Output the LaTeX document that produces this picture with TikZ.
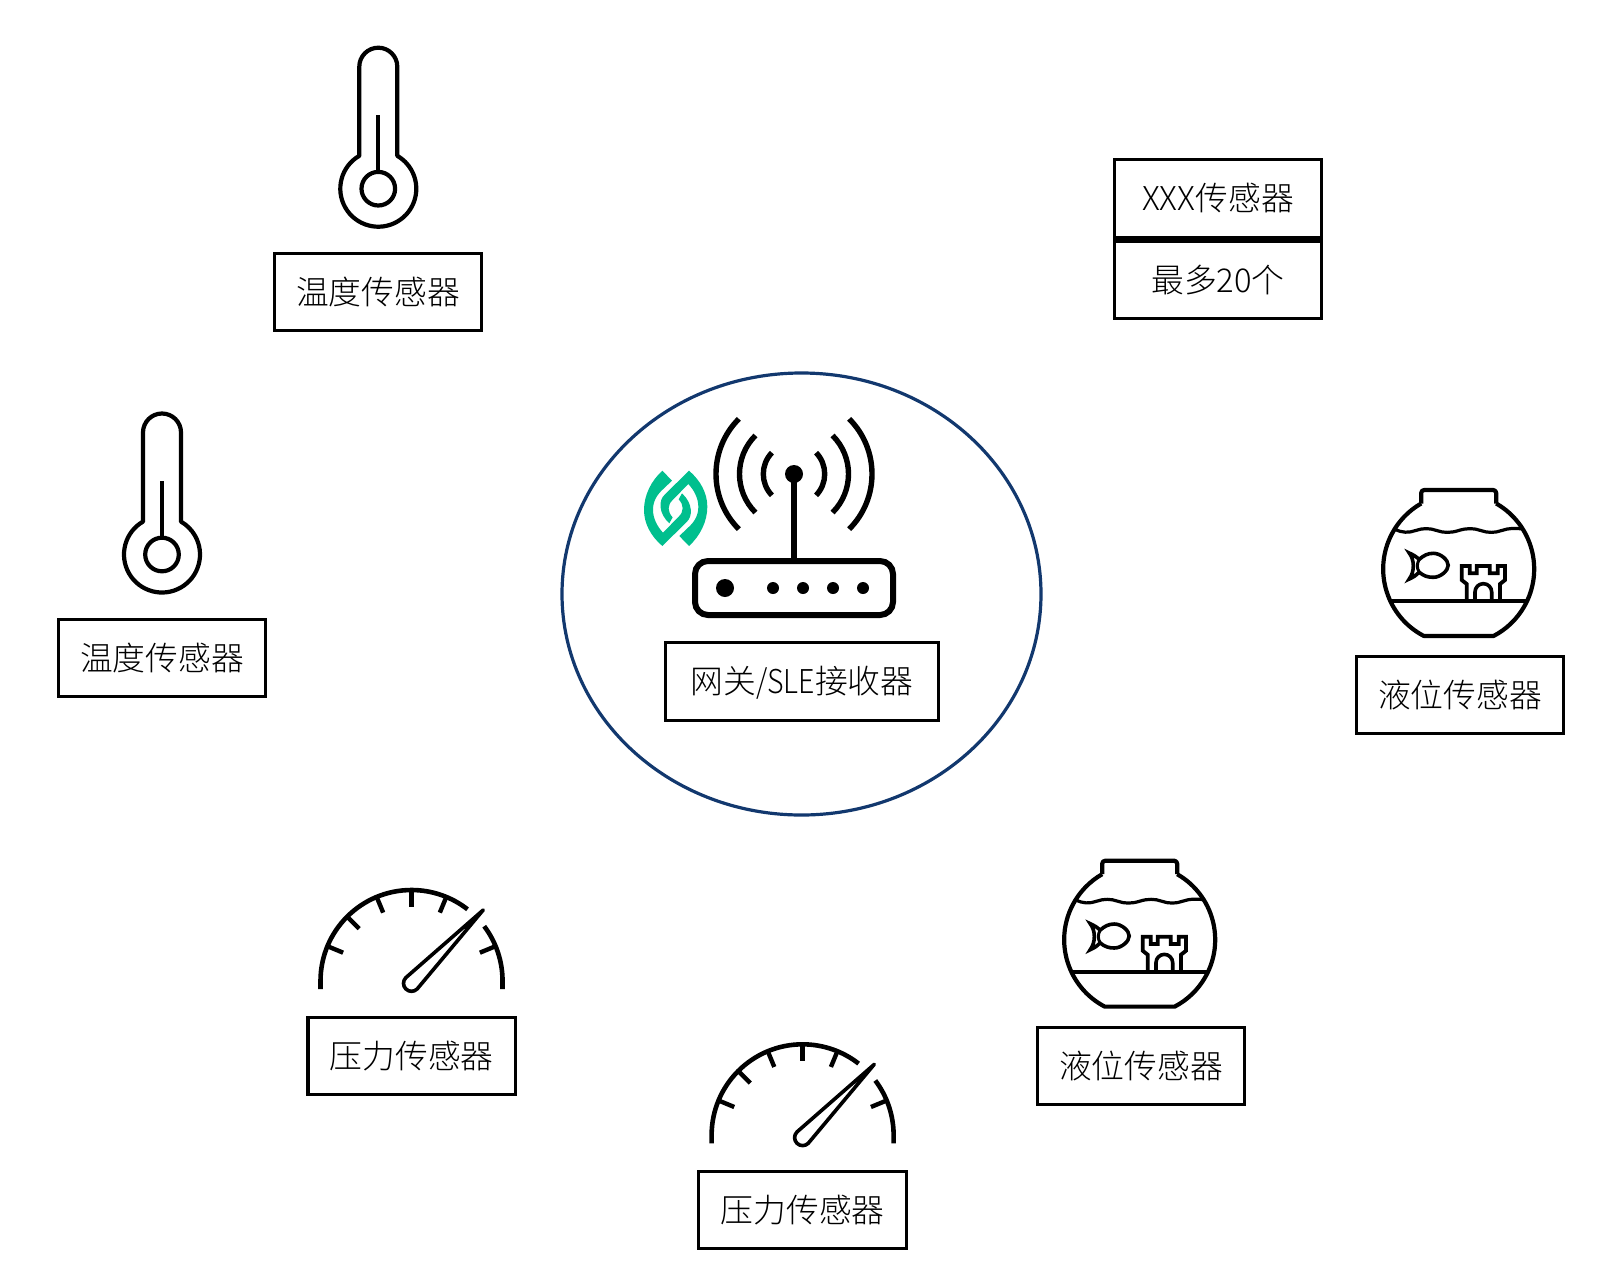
\documentclass[tikz,border=0pt]{standalone}
\usepackage{fontspec}
\setmainfont{Noto Sans CJK SC Light}
\usetikzlibrary{shapes.geometric}
\definecolor{navy}{HTML}{12386E}
\definecolor{leaf}{HTML}{00BF8E}
\tikzset{
  sensorbox/.style={draw=black,line width=3.2,minimum width=207.5,minimum height=77,inner sep=0,
    font=\fontsize{32.8}{36}\selectfont,text height=30,text depth=5,anchor=center},
  iconline/.style={draw=black,line width=4.2,line join=round,fill=none},
  thinline/.style={draw=black,line width=3.2,line join=round,fill=none},
  routerline/.style={draw=black,line width=6},
  waveline/.style={draw=black,line width=5.4},
}
\newcommand{\thermo}[2]{%
\begin{scope}[shift={(#1,#2)}]
  \draw[iconline] (19,-32.9) -- (19,-122) arc[start angle=0,end angle=-180,radius=19] -- (-19,-32.9)
     arc[start angle=-120,end angle=-420,radius=38] -- cycle;
  \draw[iconline] (0,0) circle[radius=16.8];
  \draw[iconline] (0,-16.8) -- (0,-74);
\end{scope}}
\newcommand{\gauge}[2]{%
\begin{scope}[shift={(#1,#2)}]
  \draw[iconline,line width=4.6,line join=miter] (-91,8) -- (-91,0) arc[start angle=-180,end angle=-52,radius=91];
  \draw[iconline,line width=4.6,line join=miter] (72.7,-54.8) arc[start angle=-37,end angle=0,radius=91] -- (91,8);
  \foreach \a in {-157.5,-135,-112.5,-90,-67.5,-22.5}
    \draw[draw=black,line width=4.4] (\a:91) -- (\a:74);
  \draw[thinline,line width=3.6] (71.7,-71) -- (5.66,7.96) arc[start angle=45,end angle=225,radius=8] -- cycle;
\end{scope}}
\newcommand{\tank}[2]{%
\begin{scope}[shift={(#1,#2)}]
  \draw[iconline,rounded corners=3] (-37.5,-65.5) -- (-37.5,-79) -- (37.5,-79) -- (37.5,-65.5);
  \draw[iconline] (37.5,-65.5) arc[start angle=-60.2,end angle=62.4,radius=75.5] -- (-35,66.9)
     arc[start angle=117.6,end angle=240.2,radius=75.5];
  \draw[thinline,line width=3.2] (-64,-40) .. controls (-57,-36) and (-50,-36) .. (-43,-38.5)
     .. controls (-36,-41) and (-29,-41) .. (-22,-38.5) .. controls (-15,-36) and (-8,-36) .. (0,-38.5)
     .. controls (8,-41) and (15,-41) .. (22,-38.5) .. controls (29,-36) and (36,-36) .. (43,-38.5)
     .. controls (50,-41) and (57,-41) .. (64,-40);
  \draw[iconline] (-68,32) -- (68,32);
  \draw[thinline,line width=3.8,line join=miter] (8,31) -- (8,15) -- (3,11) -- (3,-3) -- (11,-3) -- (11,4.3) -- (18,4.3) -- (18,-3) -- (31,-3)
     -- (31,4.3) -- (39,4.3) -- (39,-3) -- (46.3,-3) -- (46.3,11) -- (41.3,15) -- (41.3,31);
  \draw[thinline,line width=3.6] (16.3,31) -- (16.3,23) arc[start angle=180,end angle=360,radius=8.35] -- (33,31);
  \draw[thinline,line width=3.6,line join=miter,miter limit=10] (-49.5,-16) .. controls (-45,-14) and (-42,-12) .. (-39.5,-9.7)
     .. controls (-35,-13.5) and (-31,-15.7) .. (-25.4,-15.7)
     .. controls (-18,-15.7) and (-10.5,-9) .. (-10.5,-3.7) .. controls (-10.5,1.5) and (-18,8.3) .. (-25.4,8.3)
     .. controls (-31,8.3) and (-35,7) .. (-39.5,3.2) .. controls (-42,6) and (-45,8) .. (-49.5,10)
     .. controls (-44,2.7) and (-44,-9) .. (-49.5,-16) -- cycle;
  \draw[thinline,line width=3] (-39.5,-9.7) .. controls (-42,-5) and (-42,-1) .. (-39.5,3.2);
\end{scope}}
\newcommand{\logopiece}{%
  (177,32) .. controls (212,62) and (232,100) .. (232,140) .. controls (232,185) and (210,228) .. (177,258)
  -- (148,228) -- (172,205) .. controls (195,185) and (205,165) .. (205,140) .. controls (205,115) and (192,90) .. (175,72)
  -- (128,120) .. controls (112,135) and (112,155) .. (128,172) -- (118,190) .. controls (85,160) and (85,120) .. (105,103) -- cycle}
\begin{document}
\begin{tikzpicture}[x=1pt,y=1pt,yscale=-1]
\useasboundingbox (0,0) rectangle (1623,1286);
% gateway
\node[ellipse,draw=navy,line width=3.2,minimum width=479,minimum height=442,inner sep=0] (gw) at (801.5,594) {};
\begin{scope}[shift={(630,460)},x=0.3333pt,y=0.3333pt]
  \fill[leaf] \logopiece;
  \fill[leaf,rotate around={180:(137,145)}] \logopiece;
\end{scope}
\draw[routerline,rounded corners=13] (695,561) rectangle (893,615);
\draw[routerline] (794,474) -- (794,561);
\fill (794,474) circle[radius=9];
\fill (725,588) circle[radius=9];
\foreach \x in {773,803,833,863} \fill (\x,588) circle[radius=6];
\foreach \r/\a in {30.7/44,54.5/45,78/45}{
  \draw[waveline] (794,474) ++(180-\a:\r) arc[start angle=180-\a,end angle=180+\a,radius=\r];
  \draw[waveline] (794,474) ++(-\a:\r) arc[start angle=-\a,end angle=\a,radius=\r];
}
\node[sensorbox,minimum width=272.5,minimum height=78] (gwbox) at (802,681.2) {网关{\addfontfeature{FakeStretch=0.87}/SLE}接收器};
% temperature
\thermo{378.3}{188.7}
\node[sensorbox] (t1) at (378,292) {温度传感器};
\thermo{162}{554.5}
\node[sensorbox] (t2) at (162,658.3) {温度传感器};
% xxx
\node[sensorbox,minimum height=78.2] (x1) at (1218,198.4) {XXX传感器};
\node[sensorbox,minimum height=77.3] (x2) at (1218,279.6) {最多20个};
% level
\tank{1458.7}{569}
\node[sensorbox] (l1) at (1460,695.2) {液位传感器};
\tank{1139.7}{939.7}
\node[sensorbox] (l2) at (1141,1066) {液位传感器};
% pressure
\gauge{411.5}{981}
\node[sensorbox] (p1) at (411.7,1056) {压力传感器};
\gauge{802.6}{1135.3}
\node[sensorbox] (p2) at (802.6,1210.2) {压力传感器};
\end{tikzpicture}
\end{document}
